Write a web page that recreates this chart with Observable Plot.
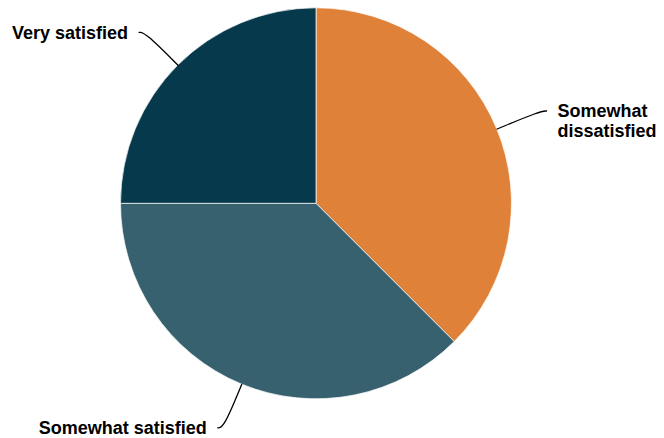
<!DOCTYPE html>
<html><head><meta charset="utf-8">
<script src="https://cdn.jsdelivr.net/npm/d3@7"></script>
<script src="https://cdn.jsdelivr.net/npm/@observablehq/plot@0.6"></script>
<style>body{margin:0;background:#fff}</style>
</head><body><div id="chart"></div>
<script>
const categories = ["Somewhat dissatisfied", "Somewhat satisfied", "Very satisfied"];
const labels = ["Somewhat\ndissatisfied", "Somewhat satisfied", "Very satisfied"];
const values = [37.5, 37.5, 25];
const colors = ["#df8139", "#386170", "#05394b"];

const W = 664, H = 438, R = 195.5, cx = 316, cy = 203.3;
const arcs = d3.pie().sort(null).value(d => d)(values);
const data = arcs.map((a, i) => ({
  category: categories[i], label: labels[i], value: values[i],
  start: a.startAngle, end: a.endAngle, mid: (a.startAngle + a.endAngle) / 2, color: colors[i]
}));

const leaderOut = 47 / R, hook = 6 / R, gap = 11 / R;
const leaders = [], labelPts = [];
for (const d of data) {
  const s = Math.sin(d.mid), c = Math.cos(d.mid);
  const side = s >= 0 ? 1 : -1;
  const p1x = (1 + leaderOut) * s, p1y = (1 + leaderOut) * c;
  leaders.push({k: d.category, x: s, y: c}, {k: d.category, x: p1x, y: p1y}, {k: d.category, x: p1x + side * hook, y: p1y});
  labelPts.push({label: d.label, side, x: p1x + side * (hook + gap), y: p1y});
}

function slices(index, scales) {
  const x0 = scales.x(0), y0 = scales.y(0);
  const rpx = scales.x(1) - x0;
  const arc = d3.arc().innerRadius(0).outerRadius(rpx);
  const g = d3.create("svg:g").attr("transform", `translate(${x0},${y0})`);
  g.selectAll("path").data(data).join("path")
    .attr("d", d => arc({startAngle: d.start, endAngle: d.end}))
    .attr("fill", d => d.color)
    .attr("stroke", "#fff")
    .attr("stroke-width", 0.7);
  return g.node();
}

const textOpts = {x: "x", y: "y", text: "label", fontSize: 18, fontWeight: "bold",
  fill: "#000", lineAnchor: "top", dy: -7.3, lineHeight: 1.07};

const chart = Plot.plot({
  width: W, height: H, margin: 0,
  style: {background: "#fff", fontFamily: "'Liberation Sans', Arial, sans-serif"},
  x: {domain: [-cx / R, (W - cx) / R], axis: null},
  y: {domain: [-(H - cy) / R, cy / R], axis: null},
  marks: [
    slices,
    Plot.line(leaders, {x: "x", y: "y", z: "k", curve: "basis", stroke: "#000", strokeWidth: 1.3}),
    Plot.text(labelPts.filter(d => d.side > 0), {...textOpts, textAnchor: "start"}),
    Plot.text(labelPts.filter(d => d.side < 0), {...textOpts, textAnchor: "end"})
  ]
});
document.getElementById("chart").append(chart);
</script>
</body></html>
